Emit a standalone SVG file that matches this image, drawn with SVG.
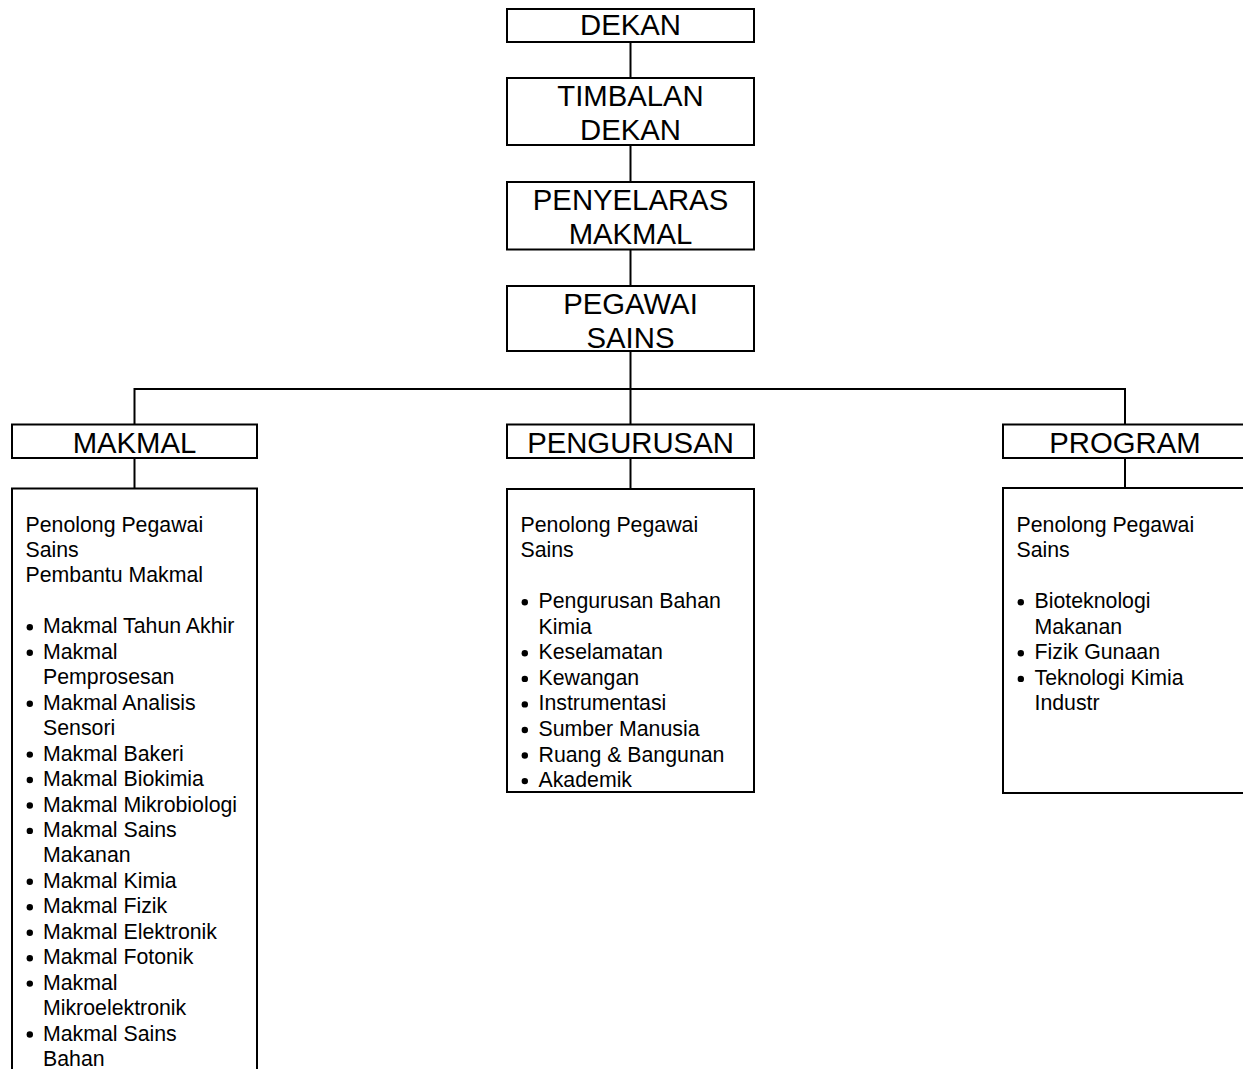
<svg xmlns="http://www.w3.org/2000/svg" width="1243" height="1069" viewBox="0 0 1243 1069">
<style>
.box{fill:#fff;stroke:#000;stroke-width:2}
.ln{stroke:#000;stroke-width:2;fill:none}
.t{font-family:'Liberation Sans',Arial,sans-serif;font-size:29.3px;text-anchor:middle;fill:#000}
.d{font-family:'Liberation Sans',Arial,sans-serif;font-size:21.3px;fill:#000}
.b{fill:#000}
</style>
<rect width="1243" height="1069" fill="#fff"/>
<g id="connectors">
<line class="ln" x1="630.5" y1="42" x2="630.5" y2="78"/>
<line class="ln" x1="630.5" y1="145" x2="630.5" y2="182"/>
<line class="ln" x1="630.5" y1="249.5" x2="630.5" y2="286"/>
<line class="ln" x1="630.5" y1="351" x2="630.5" y2="424.5"/>
<polyline class="ln" points="134.5,424.5 134.5,389 1125,389 1125,424.5"/>
<line class="ln" x1="134.5" y1="458" x2="134.5" y2="488.5"/>
<line class="ln" x1="630.5" y1="458" x2="630.5" y2="489"/>
<line class="ln" x1="1125" y1="458" x2="1125" y2="488"/>
</g>
<g id="dekan">
<rect class="box" x="507" y="9" width="247" height="33"/>
<text class="t" x="630.5" y="35">DEKAN</text>
</g>
<g id="timbalan">
<rect class="box" x="507" y="78" width="247" height="67"/>
<text class="t" x="630.5" y="106">TIMBALAN</text>
<text class="t" x="630.5" y="140">DEKAN</text>
</g>
<g id="penyelaras">
<rect class="box" x="507" y="182" width="247" height="67.5"/>
<text class="t" x="630.5" y="209.5">PENYELARAS</text>
<text class="t" x="630.5" y="243.5">MAKMAL</text>
</g>
<g id="pegawai">
<rect class="box" x="507" y="286" width="247" height="65"/>
<text class="t" x="630.5" y="313.5">PEGAWAI</text>
<text class="t" x="630.5" y="348">SAINS</text>
</g>
<g id="makmal">
<rect class="box" x="12" y="424.5" width="245" height="33.5"/>
<text class="t" x="134.5" y="452.5">MAKMAL</text>
</g>
<g id="pengurusan">
<rect class="box" x="507" y="424.5" width="247" height="33.5"/>
<text class="t" x="630.5" y="452.5">PENGURUSAN</text>
</g>
<g id="program">
<rect class="box" x="1003" y="424.5" width="245" height="33.5"/>
<text class="t" x="1125" y="452.5">PROGRAM</text>
</g>
<g id="makmal-detail">
<rect class="box" x="12" y="488.5" width="245" height="600"/>
<text class="d" x="25.5" y="531.5">Penolong Pegawai</text>
<text class="d" x="25.5" y="557">Sains</text>
<text class="d" x="25.5" y="582.4">Pembantu Makmal</text>
<circle class="b" cx="29.8" cy="627.3" r="3.2"/><text class="d" x="43" y="633.3">Makmal Tahun Akhir</text>
<circle class="b" cx="29.8" cy="652.8" r="3.2"/><text class="d" x="43" y="658.8">Makmal</text>
<text class="d" x="43" y="684.2">Pemprosesan</text>
<circle class="b" cx="29.8" cy="703.7" r="3.2"/><text class="d" x="43" y="709.7">Makmal Analisis</text>
<text class="d" x="43" y="735.1">Sensori</text>
<circle class="b" cx="29.8" cy="754.6" r="3.2"/><text class="d" x="43" y="760.6">Makmal Bakeri</text>
<circle class="b" cx="29.8" cy="780" r="3.2"/><text class="d" x="43" y="786">Makmal Biokimia</text>
<circle class="b" cx="29.8" cy="805.5" r="3.2"/><text class="d" x="43" y="811.5">Makmal Mikrobiologi</text>
<circle class="b" cx="29.8" cy="830.9" r="3.2"/><text class="d" x="43" y="836.9">Makmal Sains</text>
<text class="d" x="43" y="862.4">Makanan</text>
<circle class="b" cx="29.8" cy="881.8" r="3.2"/><text class="d" x="43" y="887.8">Makmal Kimia</text>
<circle class="b" cx="29.8" cy="907.3" r="3.2"/><text class="d" x="43" y="913.3">Makmal Fizik</text>
<circle class="b" cx="29.8" cy="932.7" r="3.2"/><text class="d" x="43" y="938.7">Makmal Elektronik</text>
<circle class="b" cx="29.8" cy="958.2" r="3.2"/><text class="d" x="43" y="964.2">Makmal Fotonik</text>
<circle class="b" cx="29.8" cy="983.6" r="3.2"/><text class="d" x="43" y="989.6">Makmal</text>
<text class="d" x="43" y="1015.1">Mikroelektronik</text>
<circle class="b" cx="29.8" cy="1034.5" r="3.2"/><text class="d" x="43" y="1040.5">Makmal Sains</text>
<text class="d" x="43" y="1065.5">Bahan</text>
</g>
<g id="pengurusan-detail">
<rect class="box" x="507" y="489" width="247" height="303"/>
<text class="d" x="520.5" y="531.5">Penolong Pegawai</text>
<text class="d" x="520.5" y="557.1">Sains</text>
<circle class="b" cx="524.8" cy="602.2" r="3.2"/><text class="d" x="538.5" y="608.2">Pengurusan Bahan</text>
<text class="d" x="538.5" y="633.7">Kimia</text>
<circle class="b" cx="524.8" cy="653.3" r="3.2"/><text class="d" x="538.5" y="659.3">Keselamatan</text>
<circle class="b" cx="524.8" cy="678.9" r="3.2"/><text class="d" x="538.5" y="684.9">Kewangan</text>
<circle class="b" cx="524.8" cy="704.4" r="3.2"/><text class="d" x="538.5" y="710.4">Instrumentasi</text>
<circle class="b" cx="524.8" cy="730" r="3.2"/><text class="d" x="538.5" y="736">Sumber Manusia</text>
<circle class="b" cx="524.8" cy="755.5" r="3.2"/><text class="d" x="538.5" y="761.5">Ruang &amp; Bangunan</text>
<circle class="b" cx="524.8" cy="781.1" r="3.2"/><text class="d" x="538.5" y="787.1">Akademik</text>
</g>
<g id="program-detail">
<rect class="box" x="1003" y="488" width="245" height="305"/>
<text class="d" x="1016.5" y="531.5">Penolong Pegawai</text>
<text class="d" x="1016.5" y="557.1">Sains</text>
<circle class="b" cx="1020.8" cy="602.2" r="3.2"/><text class="d" x="1034.5" y="608.2">Bioteknologi</text>
<text class="d" x="1034.5" y="633.7">Makanan</text>
<circle class="b" cx="1020.8" cy="653.3" r="3.2"/><text class="d" x="1034.5" y="659.3">Fizik Gunaan</text>
<circle class="b" cx="1020.8" cy="678.9" r="3.2"/><text class="d" x="1034.5" y="684.9">Teknologi Kimia</text>
<text class="d" x="1034.5" y="710.4">Industr</text>
</g>
</svg>
